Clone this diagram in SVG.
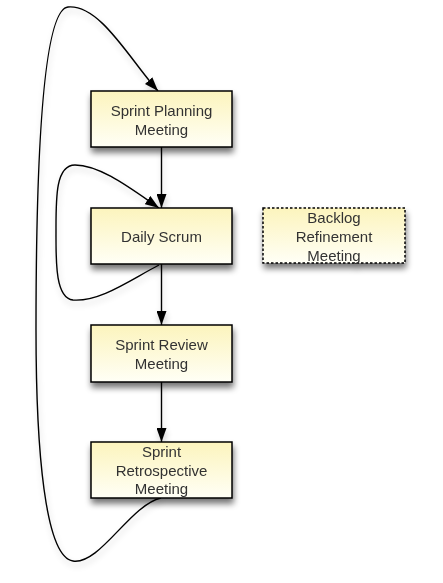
<svg xmlns="http://www.w3.org/2000/svg" width="443" height="583" viewBox="0 0 443 583">
<defs>
<linearGradient id="fill" x1="0" y1="0" x2="0" y2="1">
<stop offset="0" stop-color="#fcf4bd"/>
<stop offset="1" stop-color="#fffff6"/>
</linearGradient>
<filter id="sh" x="-20%" y="-20%" width="140%" height="160%">
<feGaussianBlur in="SourceAlpha" stdDeviation="3"/>
<feOffset dx="1" dy="5" result="b"/>
<feComponentTransfer><feFuncA type="linear" slope="0.55"/></feComponentTransfer>
<feMerge><feMergeNode/><feMergeNode in="SourceGraphic"/></feMerge>
</filter>
<filter id="lsh" x="-20%" y="-20%" width="140%" height="140%">
<feGaussianBlur in="SourceAlpha" stdDeviation="3"/>
<feOffset dx="1" dy="4"/>
<feComponentTransfer><feFuncA type="linear" slope="0.2"/></feComponentTransfer>
<feMerge><feMergeNode/><feMergeNode in="SourceGraphic"/></feMerge>
</filter>
<marker id="arr" markerUnits="userSpaceOnUse" markerWidth="14" markerHeight="10" refX="14" refY="5" orient="auto">
<path d="M0,0 L14,5 L0,10 Z" fill="#000"/>
</marker>
</defs>
<style>
.box{fill:url(#fill);stroke:#000;stroke-width:1.5}
.dash{stroke-dasharray:2.5 2}
.t{font-family:"Liberation Sans",Arial,sans-serif;font-size:15px;fill:#333;text-anchor:middle}
.c{fill:none;stroke:#000;stroke-width:1.4;marker-end:url(#arr)}
.c0{fill:none;stroke:#000;stroke-width:1.4}
</style>
<g id="connectors" filter="url(#lsh)">
<path class="c" d="M161,498 C130,505 100,565 73,561 C45,557 36,450 36,330 C36,200 40,10 68,7 C100,4 130,60 158,91"/>
<path class="c" d="M159,265 C130,280 100,302 73,300 C55,298 56,260 56,233 C56,200 55,165 75,165 C100,165 130,188 159,208"/>
<path class="c" d="M161.5,147 L161.5,208"/>
<path class="c" d="M161.5,264 L161.5,325"/>
<path class="c" d="M161.5,382 L161.5,442"/>
</g>
<g id="planning" filter="url(#sh)">
<rect class="box" x="91" y="91" width="141" height="56"/>
<text class="t" x="161.5" y="116">Sprint Planning</text>
<text class="t" x="161.5" y="135">Meeting</text>
</g>
<g id="daily" filter="url(#sh)">
<rect class="box" x="91" y="208" width="141" height="56"/>
<text class="t" x="161.5" y="242">Daily Scrum</text>
</g>
<g id="review" filter="url(#sh)">
<rect class="box" x="91" y="325" width="141" height="57"/>
<text class="t" x="161.5" y="350">Sprint Review</text>
<text class="t" x="161.5" y="369">Meeting</text>
</g>
<g id="retro" filter="url(#sh)">
<rect class="box" x="91" y="442" width="141" height="56"/>
<text class="t" x="161.5" y="457">Sprint</text>
<text class="t" x="161.5" y="476">Retrospective</text>
<text class="t" x="161.5" y="494">Meeting</text>
</g>
<g id="backlog" filter="url(#sh)">
<rect class="box dash" x="263" y="208" width="142" height="55"/>
<text class="t" x="334" y="223">Backlog</text>
<text class="t" x="334" y="242">Refinement</text>
<text class="t" x="334" y="261">Meeting</text>
</g>
</svg>
